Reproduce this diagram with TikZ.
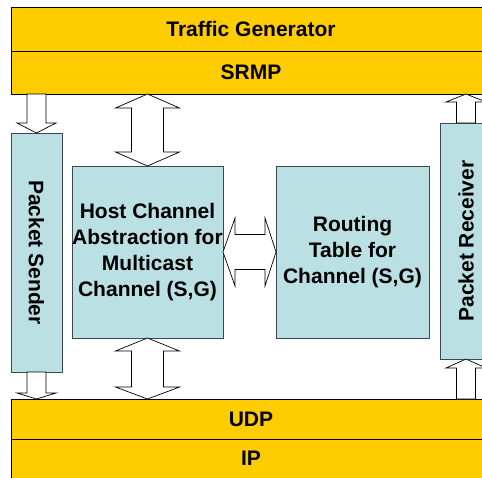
\documentclass[tikz,border=0pt]{standalone}
\usepackage{fontspec}
\setmainfont{Liberation Sans}
\usetikzlibrary{positioning,calc}

\definecolor{layeryellow}{RGB}{255,204,0}
\definecolor{boxblue}{RGB}{187,224,227}
\definecolor{boxline}{RGB}{60,74,80}

\tikzset{
  layer/.style={draw=black,line width=0.8pt,fill=layeryellow,inner sep=0pt,outer sep=0pt,
    minimum width=480pt,font=\fontsize{21}{26}\selectfont\bfseries},
  module/.style={draw=boxline,line width=0.8pt,fill=boxblue,inner sep=0pt,outer sep=0pt,
    align=center,font=\fontsize{21}{26}\selectfont\bfseries},
  hollow/.style={draw=black,line width=0.7pt,fill=white,line join=miter}
}

% single fat arrow: tail, tip, half shaft, half head, head length
\newcommand{\fatone}[5]{%
  \draw[hollow] let \p1=(#1), \p2=(#2), \n1={sign(\y1-\y2)} in
    (\x1-#3,\y1) -- (\x1+#3,\y1) -- (\x1+#3,\y2+\n1*#5) -- (\x1+#4,\y2+\n1*#5)
    -- (\x1,\y2) -- (\x1-#4,\y2+\n1*#5) -- (\x1-#3,\y2+\n1*#5) -- cycle;}
% double fat arrow: end, end, half shaft, half head, head lengths
\newcommand{\fattwo}[6]{%
  \draw[hollow] let \p1=(#1), \p2=(#2), \n1={sign(\y1-\y2)} in
    (\x1,\y1) -- (\x1+#4,\y1-\n1*#5) -- (\x1+#3,\y1-\n1*#5) -- (\x1+#3,\y2+\n1*#6)
    -- (\x1+#4,\y2+\n1*#6) -- (\x1,\y2) -- (\x1-#4,\y2+\n1*#6) -- (\x1-#3,\y2+\n1*#6)
    -- (\x1-#3,\y1-\n1*#5) -- (\x1-#4,\y1-\n1*#5) -- cycle;}

\begin{document}
\begin{tikzpicture}[x=1pt,y=-1pt]
	\useasboundingbox (0,0) rectangle (482,477);
	\clip (0,0) rectangle (482,477);
	% protocol layers
	\node[layer,minimum height=44pt] (tg) at (251,29) {Traffic Generator};
	\node[layer,minimum height=43pt,below=0pt of tg] (srmp) {SRMP};
	\node[layer,minimum height=40pt] (udp) at (251,419) {UDP};
	\node[layer,minimum height=39pt,below=0pt of udp] (ip) {IP};
	% modules
	\node[module,minimum width=239pt,minimum height=51pt,rotate=-90] (snd) at (36.5,252.5) {Packet Sender};
	\node[module,minimum width=151pt,minimum height=172pt] (hca) at (147.5,252)
		{Host Channel\\Abstraction for\\Multicast\\Channel (S,G)};
	\node[module,minimum width=153pt,minimum height=172pt] (rtc) at (352.5,252)
		{Routing\\Table for\\Channel (S,G)};
	\node[module,minimum width=236pt,minimum height=52pt,rotate=90] (rcv) at (466,241) {Packet Receiver};
	% arrows
	\fatone{snd.west |- srmp.south}{snd.west}{9.5pt}{19.5pt}{10pt}
	\fatone{snd.east}{snd.east |- udp.north}{9.5pt}{19.5pt}{6pt}
	\fatone{rcv.east}{rcv.east |- srmp.south}{9.5pt}{20pt}{8pt}
	\fatone{rcv.west |- udp.north}{rcv.west}{9.5pt}{20pt}{9pt}
	\fattwo{hca.north |- srmp.south}{hca.north}{16pt}{32pt}{14pt}{14pt}
	\fattwo{hca.south}{hca.south |- udp.north}{16pt}{32pt}{13pt}{12pt}
	\draw[hollow] let \p1=(hca.east), \p2=(rtc.west) in
		(\x1,\y1) -- (\x1+12pt,\y1+34pt) -- (\x1+12pt,\y1+17.5pt) -- (\x2-11pt,\y1+17.5pt)
		-- (\x2-11pt,\y1+34pt) -- (\x2,\y1) -- (\x2-11pt,\y1-34pt) -- (\x2-11pt,\y1-17.5pt)
		-- (\x1+12pt,\y1-17.5pt) -- (\x1+12pt,\y1-34pt) -- cycle;
\end{tikzpicture}
\end{document}
